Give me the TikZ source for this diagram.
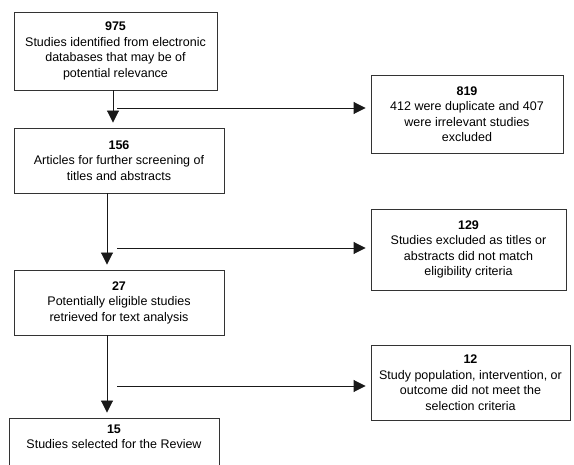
\documentclass[tikz,border=0pt]{standalone}
\usepackage{fontspec}
\setmainfont{Liberation Sans}
\usetikzlibrary{arrows.meta,positioning}

\tikzset{
  box/.style={draw=black!80, line width=0.9pt, align=center, inner sep=2pt,
    font=\fontsize{12.5}{15.5}\selectfont},
  arr/.style={draw=black!90, line width=0.9pt, shorten >=5pt,
    -{Triangle[width=12pt,length=12pt]}},
}

\begin{document}
\begin{tikzpicture}[x=1pt,y=-1pt]
  \useasboundingbox (0,0) rectangle (574,465);
  \clip (0,0) rectangle (574,465);
  % left column
  \node[box, minimum width=203pt, minimum height=78pt] (n975) at (115.5,51)
    {\textbf{975}\\Studies identified from electronic\\databases that may be of\\potential relevance};
  \node[box, minimum width=210pt, minimum height=65pt] (n156) at (119,160.5)
    {\textbf{156}\\Articles for further screening of\\titles and abstracts};
  \node[box, minimum width=210pt, minimum height=65pt] (n27) at (119,302.5)
    {\textbf{27}\\Potentially eligible studies\\retrieved for text analysis};
  \node[box, minimum width=210pt, minimum height=58pt] (n15) at (114,447)
    {\textbf{15}\\Studies selected for the Review\\\strut};
  % excluded boxes
  \node[box, minimum width=192pt, minimum height=78pt] (x819) at (467,114)
    {\textbf{819}\\412 were duplicate and 407\\were irrelevant studies\\excluded};
  \node[box, minimum width=195pt, minimum height=81pt] (x129) at (468.5,249.5)
    {\textbf{129}\\Studies excluded as titles or\\abstracts did not match\\eligibility criteria};
  \node[box, minimum width=199pt, minimum height=75pt] (x12) at (470.5,382.5)
    {\textbf{12}\\Study population, intervention, or\\outcome did not meet the\\selection criteria};
  % arrows
  \coordinate (c1) at (113,0);
  \coordinate (c2) at (107,0);
  \coordinate (s1) at (117,108);
  \coordinate (s2) at (117,248);
  \coordinate (s3) at (117,386);
  \draw[arr] (n975.south -| c1) -- (n156.north -| c1);
  \draw[arr] (n156.south -| c2) -- (n27.north -| c2);
  \draw[arr] (n27.south -| c2) -- (n15.north -| c2);
  \draw[arr] (s1) -- (s1 -| x819.west);
  \draw[arr] (s2) -- (s2 -| x129.west);
  \draw[arr] (s3) -- (s3 -| x12.west);
\end{tikzpicture}
\end{document}
